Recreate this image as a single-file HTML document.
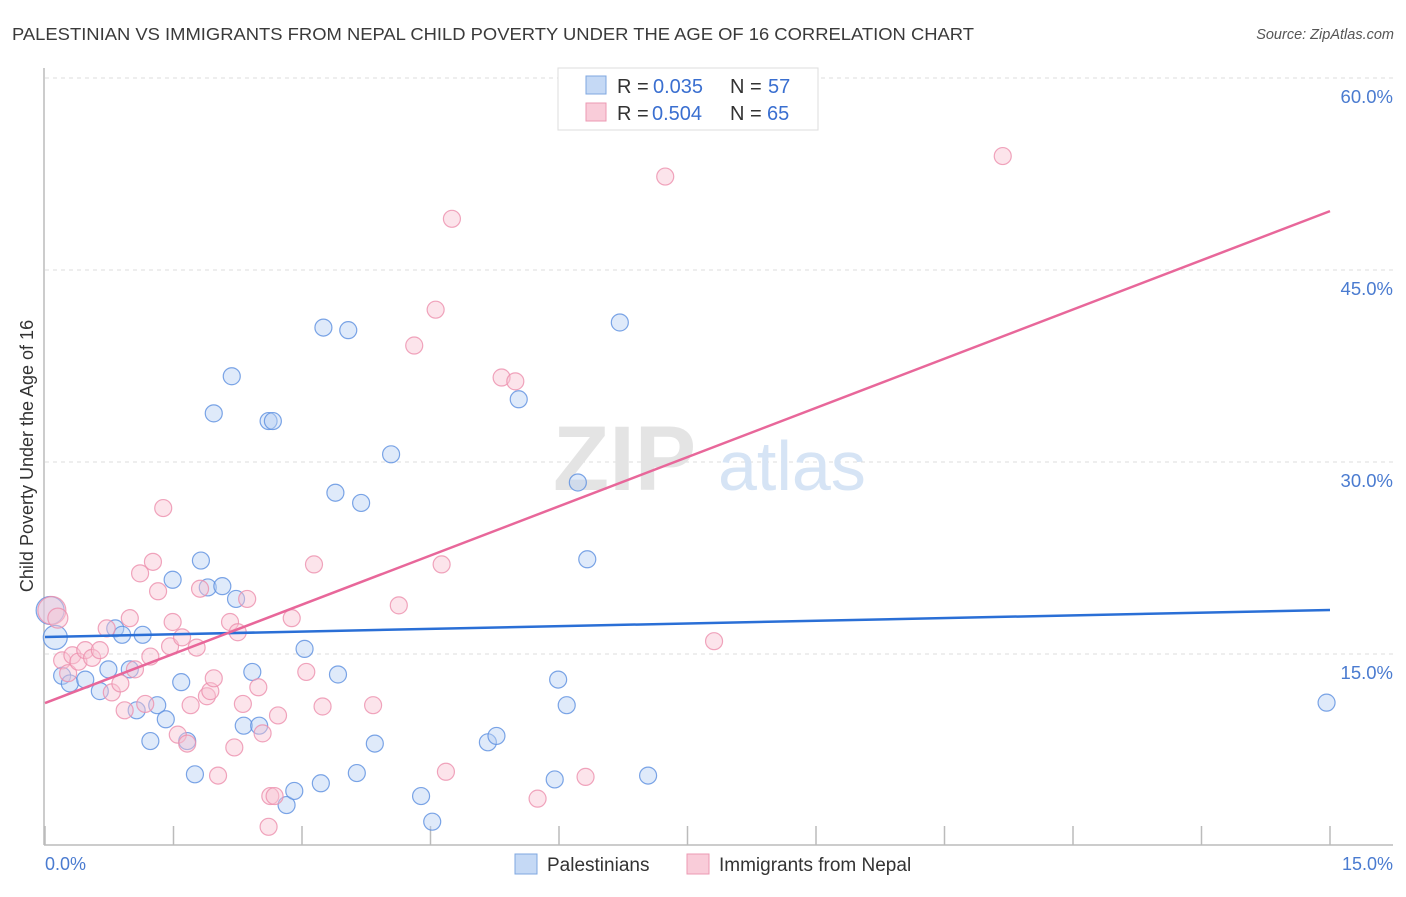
<!DOCTYPE html>
<html><head><meta charset="utf-8"><style>
body{margin:0;background:#fff;font-family:"Liberation Sans",sans-serif}
svg text{font-family:"Liberation Sans",sans-serif}
</style></head><body>
<svg width="1406" height="892" viewBox="0 0 1406 892">
<text x="12" y="40" font-size="17.5" fill="#3a3a3a" textLength="962" lengthAdjust="spacingAndGlyphs">PALESTINIAN VS IMMIGRANTS FROM NEPAL CHILD POVERTY UNDER THE AGE OF 16 CORRELATION CHART</text>
<text x="1394" y="39" font-size="14.5" fill="#555" font-style="italic" text-anchor="end">Source: ZipAtlas.com</text>
<g id="grid"></g>
<g><text x="553" y="490" font-size="92" fill="#e4e4e4" font-family="Liberation Serif" font-weight="bold">ZIP</text><text x="718" y="490" font-size="70" fill="#d6e4f5">atlas</text></g>
<line x1="44" y1="68" x2="44" y2="845" stroke="#bbb" stroke-width="1.5"/>
<line x1="44" y1="845" x2="1393" y2="845" stroke="#bbb" stroke-width="1.5"/>
<g id="ticks"></g>
<g id="blue"></g>
<g id="pink"></g>
<g id="lines"></g>
<text x="0" y="0" transform="translate(33,456) rotate(-90)" font-size="18" fill="#333" text-anchor="middle">Child Poverty Under the Age of 16</text>
<text x="45" y="870" font-size="18" fill="#4a7bd0">0.0%</text>
<text x="1393" y="870" font-size="18" fill="#4a7bd0" text-anchor="end">15.0%</text>
<g>
<rect x="558" y="68" width="260" height="62" fill="#fff" stroke="#ddd"/>
<rect x="586" y="76" width="20" height="18" fill="#c5d9f5" stroke="#7fa7e0"/>
<rect x="586" y="103" width="20" height="18" fill="#f9ccd9" stroke="#ec9ab3"/>
<text x="617" y="93" font-size="20" fill="#333">R = </text><text x="653" y="93" font-size="20" fill="#3a6fd0">0.035</text>
<text x="730" y="93" font-size="20" fill="#333">N = </text><text x="768" y="93" font-size="20" fill="#3a6fd0">57</text>
<text x="617" y="120" font-size="20" fill="#333">R = </text><text x="652" y="120" font-size="20" fill="#3a6fd0">0.504</text>
<text x="730" y="120" font-size="20" fill="#333">N = </text><text x="767" y="120" font-size="20" fill="#3a6fd0">65</text>
</g>
<g>
<rect x="515" y="854" width="22" height="20" fill="#c5d9f5" stroke="#7fa7e0"/>
<text x="547" y="871" font-size="19" fill="#333">Palestinians</text>
<rect x="687" y="854" width="22" height="20" fill="#f9ccd9" stroke="#ec9ab3"/>
<text x="719" y="871" font-size="19" fill="#333">Immigrants from Nepal</text>
</g>
</svg>
<script>
const yTicks=[15,30,45,60];
const yTickLabels=["15.0%","30.0%","45.0%","60.0%"];
const xTicks=[0,1.5,3,4.5,6,7.5,9,10.5,12,13.5,15];
const blueX=[0.06,0.12,0.2,0.29,0.47,0.64,0.74,0.82,0.9,0.99,1.07,1.14,1.23,1.31,1.41,1.49,1.59,1.66,1.75,1.82,1.9,1.97,2.07,2.18,2.23,2.32,2.42,2.5,2.61,2.66,2.82,2.91,3.03,3.22,3.25,3.39,3.42,3.54,3.64,3.69,3.85,4.04,4.39,4.52,5.17,5.27,5.53,5.95,5.99,6.09,6.22,6.33,6.71,7.04,14.96];
const blueY=[18.4,16.3,13.3,12.7,13.0,12.1,13.8,17.0,16.5,13.8,10.6,16.5,8.2,11.0,9.9,20.8,12.8,8.2,5.6,22.3,20.2,33.8,20.3,36.7,19.3,9.4,13.6,9.4,33.2,33.2,3.2,4.3,15.4,4.9,40.5,27.6,13.4,40.3,5.7,26.8,8.0,30.6,3.9,1.9,8.1,8.6,34.9,5.2,13.0,11.0,28.4,22.4,40.9,5.5,11.2];
const blueR=[14,12];
const pinkX=[0.08,0.15,0.2,0.27,0.32,0.39,0.47,0.55,0.64,0.72,0.78,0.88,0.93,0.99,1.05,1.11,1.17,1.23,1.26,1.32,1.38,1.46,1.49,1.55,1.6,1.66,1.7,1.77,1.81,1.89,1.93,1.97,2.02,2.16,2.21,2.25,2.31,2.36,2.49,2.54,2.63,2.68,2.61,2.72,2.88,3.05,3.14,3.24,3.83,4.13,4.31,4.56,4.63,4.68,4.75,5.33,5.49,5.75,6.31,7.24,7.81,11.18];
const pinkY=[18.4,17.8,14.5,13.5,14.9,14.4,15.3,14.7,15.3,17.0,12.0,12.7,10.6,17.8,13.8,21.3,11.1,14.8,22.2,19.9,26.4,15.6,17.5,8.7,16.3,8.0,11.0,15.5,20.1,11.7,12.1,13.1,5.5,17.5,7.7,16.7,11.1,19.3,12.4,8.8,3.9,3.9,1.5,10.2,17.8,13.6,22.0,10.9,11.0,18.8,39.1,41.9,22.0,5.8,49.0,36.6,36.3,3.7,5.4,52.3,16.0,53.9];
const pinkR=[14,10];
const blueLine=[16.33,18.44];
const pinkLine=[11.17,49.6];
const NS="http://www.w3.org/2000/svg";
const xs=v=>45+v*(1285/15);
const ys=v=>846-v*12.8;
function mk(t,a,p){const e=document.createElementNS(NS,t);for(const k in a)e.setAttribute(k,a[k]);p.appendChild(e);return e;}
const grid=document.getElementById('grid');
yTicks.forEach((t,i)=>{
 const l=mk('line',{x1:45,x2:1393,y1:ys(t),y2:ys(t),stroke:'#ddd','stroke-dasharray':'4,4'},grid);
 
 
 const tx=mk('text',{x:1393,y:ys(t)+25,'font-size':18.5,fill:'#4a7bd0','text-anchor':'end'},grid);
 tx.textContent=yTickLabels[i];
 
 
});
const tk=document.getElementById('ticks');
xTicks.forEach(t=>{
 const l=mk('line',{x1:xs(t),x2:xs(t),y1:826,y2:845,stroke:'#bbb','stroke-width':1.5},tk);
 
 
});
function pts(X,Y,R,g,fill,stroke,name){
 X.forEach((x,i)=>{
  const c=mk('circle',{cx:xs(x),cy:ys(Y[i]),r:R[i]||8.5,fill:fill,'fill-opacity':0.45,stroke:stroke,'stroke-width':1.2,'stroke-opacity':0.8},g);
  
  
 });
}
pts(blueX,blueY,blueR,document.getElementById('blue'),'#b8d1f3','#5b8fe0','palestinian-point');
pts(pinkX,pinkY,pinkR,document.getElementById('pink'),'#f8c3d3','#ec8fac','nepal-point');
const lg=document.getElementById('lines');
const b=mk('line',{x1:xs(0),x2:xs(15),y1:ys(blueLine[0]),y2:ys(blueLine[1]),stroke:'#2a6fd6','stroke-width':2.5},lg);


const p=mk('line',{x1:xs(0),x2:xs(15),y1:ys(pinkLine[0]),y2:ys(pinkLine[1]),stroke:'#e8679a','stroke-width':2.5},lg);


</script>
</body></html>
